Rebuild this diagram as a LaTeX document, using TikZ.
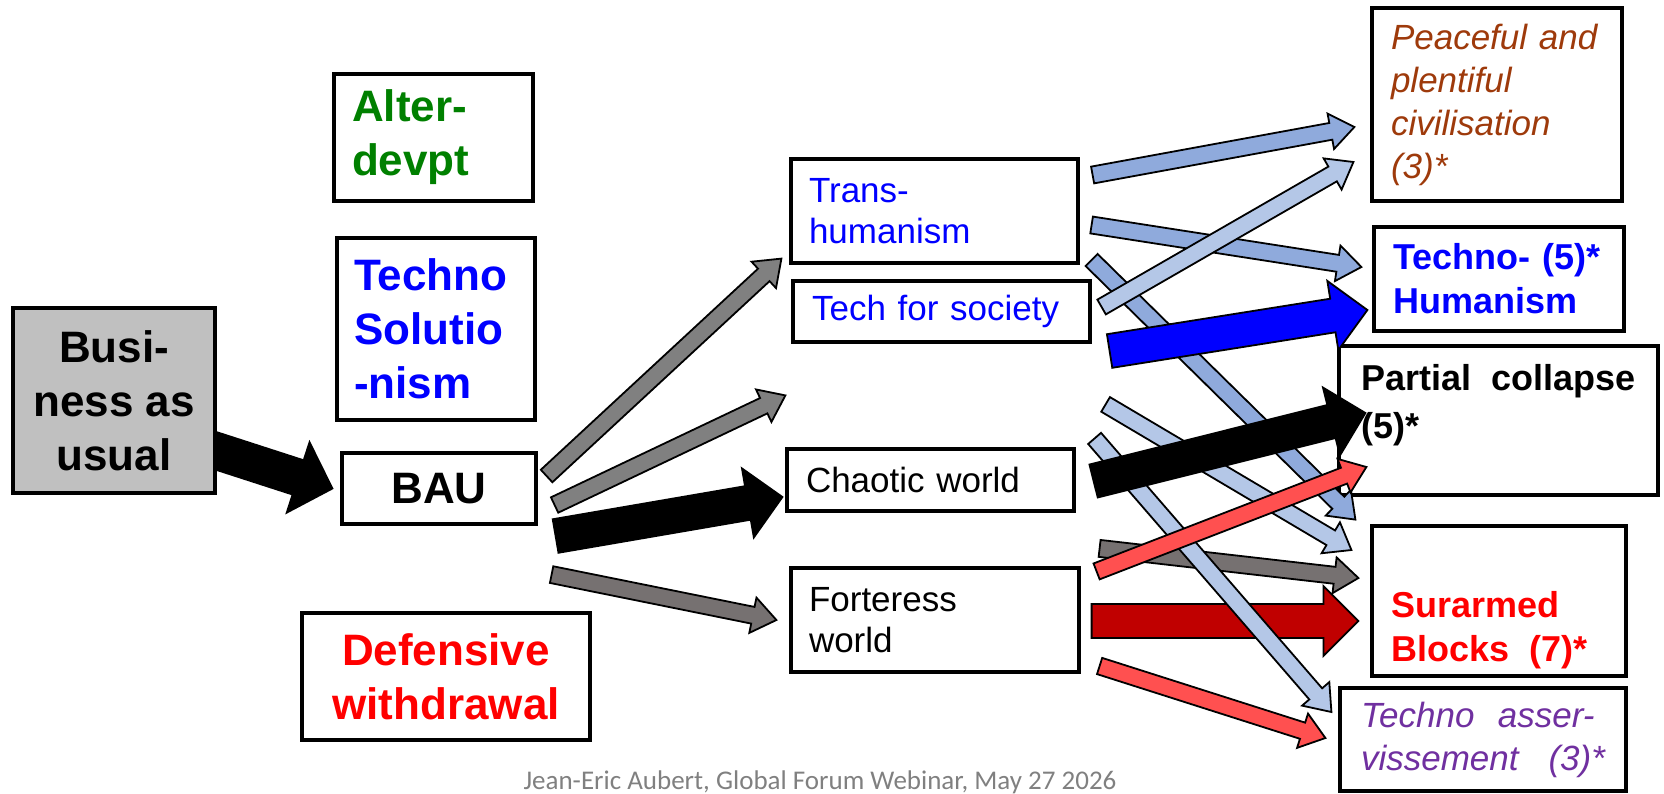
\documentclass[tikz,border=0pt]{standalone}
\usepackage{fontspec}
\setmainfont{Liberation Sans}
\newfontfamily\footfont{Carlito}
\usepackage{tikz}
\usetikzlibrary{calc,backgrounds}

\definecolor{bizgray}{RGB}{192,192,192}
\definecolor{altgreen}{RGB}{0,128,0}
\definecolor{techblue}{RGB}{0,0,255}
\definecolor{defred}{RGB}{255,0,0}
\definecolor{peacebrown}{RGB}{158,58,11}
\definecolor{asspurple}{RGB}{112,48,160}
\definecolor{midgray}{RGB}{128,128,128}
\definecolor{warmgray}{RGB}{118,113,113}
\definecolor{steel}{RGB}{143,170,220}
\definecolor{pale}{RGB}{180,199,231}
\definecolor{salmon}{RGB}{255,80,80}
\definecolor{blood}{RGB}{192,0,0}
\definecolor{footgray}{RGB}{128,128,128}

% block arrow: fill, tail, tip, half shaft, half head, head length
\newcommand{\blockarr}[6]{%
  \coordinate (ba) at (#2);
  \coordinate (bb) at (#3);
  \coordinate (bm) at ($(bb)!#6pt!(ba)$);
  \filldraw[fill=#1, draw=black, line width=1.8pt, line join=miter]
    ($(ba)!#4pt!90:(bb)$) -- ($(bm)!#4pt!90:(bb)$) -- ($(bm)!#5pt!90:(bb)$)
    -- (bb) -- ($(bm)!#5pt!-90:(bb)$) -- ($(bm)!#4pt!-90:(bb)$)
    -- ($(ba)!#4pt!-90:(bb)$) -- cycle;}
\newcommand{\thinarr}[3]{\blockarr{#1}{#2}{#3}{8.5}{18}{24}}
\newcommand{\fatarr}[3]{\blockarr{#1}{#2}{#3}{17}{35}{35}}

\begin{document}
\begin{tikzpicture}
		[x=1pt,y=-1pt,
		box/.style={draw=black,line width=3.2pt,fill=white,inner sep=0pt},
		bigtext/.style={font=\fontsize{44}{54}\selectfont\bfseries},
		midtext/.style={font=\fontsize{35}{41}\selectfont},
		sidetext/.style={font=\fontsize{36}{44}\selectfont\bfseries},
		sideital/.style={font=\fontsize{35}{43}\selectfont\itshape}]
		\useasboundingbox (0,0) rectangle (1664,793);

		% left column
		\node[box,fill=bizgray,line width=3.6pt,minimum width=202pt,minimum height=185pt,
			align=center,bigtext] (biz) at (114,400.5) {Busi-\\ness as\\usual};
		\node[box,minimum width=194pt,minimum height=71pt,bigtext] (bau) at (439,488.5) {BAU};
		\node[box,minimum width=199pt,minimum height=127pt,text width=163pt,align=left,
			bigtext,text=altgreen] (alter) at (433.5,137.5) {Alter-\\devpt};
		\node[box,minimum width=198pt,minimum height=182pt,text width=164pt,align=left,
			bigtext,text=techblue] (solu) at (436,329) {Techno\\Solutio\\-nism};
		\node[box,minimum width=288pt,minimum height=127pt,align=center,
			bigtext,text=defred] (defw) at (446,676.5) {Defensive\\withdrawal};

		% middle column
		\node[box,minimum width=287pt,minimum height=104pt,text width=251pt,align=left,
			midtext,text=techblue] (trans) at (934.5,211) {Trans-\\humanism};
		\node[box,minimum width=297pt,minimum height=61pt,text width=259pt,align=left,
			midtext,text=techblue] (tfs) at (941.5,311.5) {Tech for society};
		\node[box,minimum width=287pt,minimum height=62pt,text width=249pt,align=left,
			midtext] (chaos) at (930.5,480) {Chaotic world};
		\node[box,minimum width=288pt,minimum height=104pt,text width=252pt,align=left,
			midtext] (fort) at (935,620) {Forteress\\world};

		% right column
		\node[box,minimum width=250pt,minimum height=193pt,text width=212pt,align=left,
			sideital,text=peacebrown] (peace) at (1497,104.5)
			{Peaceful and\\plentiful\\civilisation\\(3)*};
		\node[box,minimum width=250pt,minimum height=104pt,text width=212pt,align=left,
			sidetext,text=techblue] (thum) at (1499,279) {Techno- (5)*\\Humanism};
		\node[box,minimum width=319pt,minimum height=149pt,sidetext] (pcol) at (1498.5,420.5)
			{\begin{minipage}[c][113pt][t]{274pt}Partial\hfill collapse\\[4pt](5)*\end{minipage}};
		\node[box,minimum width=254pt,minimum height=150pt,sidetext,text=defred] (sura) at (1499,601)
			{\begin{minipage}[c][129pt][b]{216pt}Surarmed\\Blocks\ \ (7)*\end{minipage}};
		\node[box,minimum width=286pt,minimum height=103pt,text width=244pt,align=left,
			sideital,text=asspurple] (tass) at (1483,739.5)
			{Techno\ \ asser-\\vissement\hfill(3)*};

		\node[anchor=base,font=\footfont\fontsize{27}{31}\selectfont,text=footgray] (ftr)
			at (820,789) {Jean-Eric Aubert, Global Forum Webinar, May 27 2026};

		% business as usual -> BAU
		\begin{pgfonlayer}{background}
			\blockarr{black}{$(biz.east)+(-8,48)$}{$(bau.west)+(-8,0)$}{18}{37}{36}
		\end{pgfonlayer}

		% out of BAU
		\thinarr{midgray}{$(bau.east)+(9,-12.5)$}{$(trans.south west)+(-8,-6)$}
		\thinarr{midgray}{$(bau.east)+(17,16.5)$}{$(chaos.north west)+(0,-52)$}
		\fatarr{black}{$(bau.east)+(18,47.5)$}{$(chaos.west)+(-3,17)$}
		\thinarr{warmgray}{$(bau.south east)+(14,49)$}{$(fort.west)+(-13,0)$}

		% towards the end states
		\thinarr{steel}{$(trans.east)+(13,-36)$}{$(peace.west)+(-16,22.5)$}
		\thinarr{steel}{$(trans.east)+(12,14)$}{$(thum.west)+(-11,-12)$}
		\thinarr{steel}{$(trans.east)+(12,49)$}{$(pcol.south west)+(18,23)$}
		\thinarr{pale}{$(tfs.east)+(10,-4.5)$}{$(peace.west)+(-17,57.5)$}
		\fatarr{techblue}{$(tfs.east)+(18,39.5)$}{$(thum.west)+(-5,31)$}
		\thinarr{warmgray}{$(fort.north east)+(19,-18)$}{$(sura.west)+(-12,-23)$}
		\fatarr{blood}{$(fort.east)+(11,1)$}{$(sura.west)+(-12,20)$}
		\thinarr{pale}{$(chaos.north east)+(19,-9)$}{$(tass.west)+(-7,-27.5)$}
		\thinarr{pale}{$(chaos.north east)+(30,-43)$}{$(sura.west)+(-19,-51)$}
		\fatarr{black}{$(chaos.east)+(18,1)$}{$(pcol.west)+(28,-7.5)$}
		\thinarr{salmon}{$(fort.north east)+(16,5)$}{$(pcol.west)+(29,46.5)$}
		\thinarr{salmon}{$(fort.east)+(19,46)$}{$(tass.west)+(-13,-1.5)$}
\end{tikzpicture}
\end{document}
